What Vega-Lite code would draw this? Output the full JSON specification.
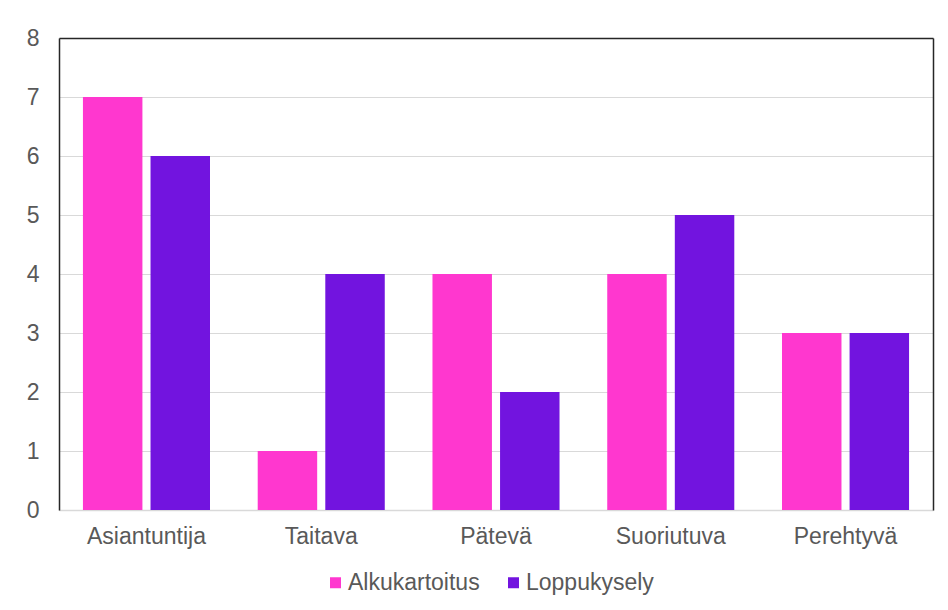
{
  "$schema": "https://vega.github.io/schema/vega-lite/v6.json",
  "width": 874,
  "height": 472,
  "autosize": {"type": "none"},
  "padding": {"left": 59, "top": 38, "right": 15, "bottom": 100},
  "background": "white",
  "config": {
    "font": "Liberation Sans",
    "view": {"stroke": null},
    "axis": {
      "labelFont": "Liberation Sans",
      "labelFontSize": 23,
      "labelColor": "#595959",
      "title": null
    },
    "legend": {
      "labelFont": "Liberation Sans",
      "labelFontSize": 23,
      "labelColor": "#595959"
    }
  },
  "data": {
    "values": [
      {"taso": "Asiantuntija", "kysely": "Alkukartoitus", "maara": 7},
      {"taso": "Asiantuntija", "kysely": "Loppukysely", "maara": 6},
      {"taso": "Taitava", "kysely": "Alkukartoitus", "maara": 1},
      {"taso": "Taitava", "kysely": "Loppukysely", "maara": 4},
      {"taso": "Pätevä", "kysely": "Alkukartoitus", "maara": 4},
      {"taso": "Pätevä", "kysely": "Loppukysely", "maara": 2},
      {"taso": "Suoriutuva", "kysely": "Alkukartoitus", "maara": 4},
      {"taso": "Suoriutuva", "kysely": "Loppukysely", "maara": 5},
      {"taso": "Perehtyvä", "kysely": "Alkukartoitus", "maara": 3},
      {"taso": "Perehtyvä", "kysely": "Loppukysely", "maara": 3}
    ]
  },
  "layer": [
    {
      "mark": {"type": "bar"},
      "encoding": {
        "x": {
          "field": "taso",
          "type": "nominal",
          "sort": null,
          "scale": {"paddingInner": 0.273, "paddingOuter": 0.137},
          "axis": {
            "labelAngle": 0,
            "ticks": false,
            "grid": false,
            "domain": true,
            "domainColor": "#d9d9d9",
            "domainWidth": 1.5,
            "labelPadding": 15
          }
        },
        "xOffset": {
          "field": "kysely",
          "type": "nominal",
          "scale": {"paddingInner": 0.12, "paddingOuter": 0}
        },
        "y": {
          "field": "maara",
          "type": "quantitative",
          "scale": {"domain": [0, 8], "nice": false},
          "axis": {
            "values": [0, 1, 2, 3, 4, 5, 6, 7, 8],
            "ticks": false,
            "domain": true,
            "domainColor": "#262626",
            "domainWidth": 1.5,
            "grid": true,
            "gridColor": "#d9d9d9",
            "gridWidth": 1,
            "labelPadding": 20
          }
        },
        "color": {
          "field": "kysely",
          "type": "nominal",
          "scale": {
            "domain": ["Alkukartoitus", "Loppukysely"],
            "range": ["#ff37cf", "#7214df"]
          },
          "legend": {
            "orient": "none",
            "legendX": 265,
            "legendY": 533,
            "direction": "horizontal",
            "title": null,
            "symbolType": "square",
            "symbolSize": 121,
            "symbolStrokeWidth": 0,
            "labelOffset": 1,
            "columnPadding": 22
          }
        }
      }
    },
    {
      "mark": {"type": "bar", "opacity": 0},
      "encoding": {
        "x": {
          "field": "taso",
          "type": "nominal",
          "sort": null,
          "axis": {
            "orient": "top",
            "labels": false,
            "ticks": false,
            "grid": false,
            "domain": true,
            "domainColor": "#262626",
            "domainWidth": 1.5
          }
        },
        "xOffset": {"field": "kysely", "type": "nominal"},
        "y": {
          "field": "maara",
          "type": "quantitative",
          "axis": {
            "orient": "right",
            "labels": false,
            "ticks": false,
            "grid": false,
            "domain": true,
            "domainColor": "#262626",
            "domainWidth": 1.5
          }
        }
      }
    }
  ],
  "resolve": {"axis": {"x": "independent", "y": "independent"}}
}
